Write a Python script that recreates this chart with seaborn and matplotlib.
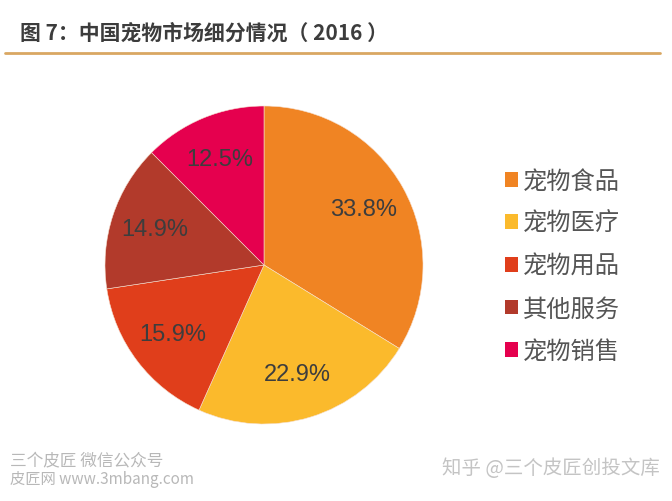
import matplotlib
matplotlib.use("Agg")
import matplotlib.pyplot as plt
import seaborn as sns
from matplotlib.patches import Patch
from matplotlib.lines import Line2D

sns.set_style("white")
plt.rcParams['font.family'] = ['Liberation Sans', 'Noto Sans CJK SC', 'DejaVu Sans']

categories = ["宠物食品", "宠物医疗", "宠物用品", "其他服务", "宠物销售"]
shares = [33.8, 22.9, 15.9, 14.9, 12.5]
colors = ["#F08423", "#FBBA2C", "#E03E1B", "#B23A2B", "#E5004E"]
title = "图 7：中国宠物市场细分情况（ 2016 ）"

W, H = 672, 502
fig = plt.figure(figsize=(W / 100, H / 100), dpi=100)
fig.patch.set_facecolor("white")

cx, cy, r = 264, 266, 159
ax = fig.add_axes([(cx - r) / W, (H - cy - r) / H, 2 * r / W, 2 * r / H])
wedges, texts, autotexts = ax.pie(
    shares, colors=colors, startangle=90, counterclock=False,
    autopct="%.1f%%", pctdistance=0.72,
    wedgeprops=dict(edgecolor="#f6e0d0", linewidth=0.4),
    textprops=dict(fontsize=17, color="#3d3d3d", family=['Liberation Sans', 'DejaVu Sans']),
)
ax.set_xlim(-1, 1)
ax.set_ylim(-1, 1)
ax.set_aspect("equal")
ax.axis("off")

handles = [Patch(facecolor=c, edgecolor="none") for c in colors]
fig.legend(handles, categories, loc="upper left",
           bbox_to_anchor=(483 / W, 1 - 147 / H), frameon=False,
           prop=dict(family=['Noto Sans CJK SC', 'DejaVu Sans'], size=17.5),
           labelcolor="#555555", handlelength=0.55, handleheight=0.55,
           handletextpad=0.2, labelspacing=0.68)

fig.text(20 / W, 1 - 33 / H, title, fontsize=15, fontweight="bold",
         color="#3c3c3c", va="center", ha="left",
         family=['Noto Sans CJK SC', 'DejaVu Sans'])
fig.add_artist(Line2D([5 / W, 660 / W], [1 - 54 / H, 1 - 54 / H],
                      transform=fig.transFigure, color="#D9A762", linewidth=2))

fig.text(10 / W, 1 - 461 / H, "三个皮匠 微信公众号", fontsize=12, color="#b8b8b8",
         va="center", ha="left", family=['Noto Sans CJK SC', 'DejaVu Sans'])
fig.text(10 / W, 1 - 480 / H, "皮匠网 www.3mbang.com", fontsize=11, color="#b8b8b8",
         va="center", ha="left", family=['Noto Sans CJK SC', 'DejaVu Sans'])
fig.text(442 / W, 1 - 469 / H, "知乎 @三个皮匠创投文库", fontsize=14, color="#c4c4c4",
         va="center", ha="left", family=['Noto Sans CJK SC', 'DejaVu Sans'])

fig.savefig("out.png", dpi=100, facecolor="white")
